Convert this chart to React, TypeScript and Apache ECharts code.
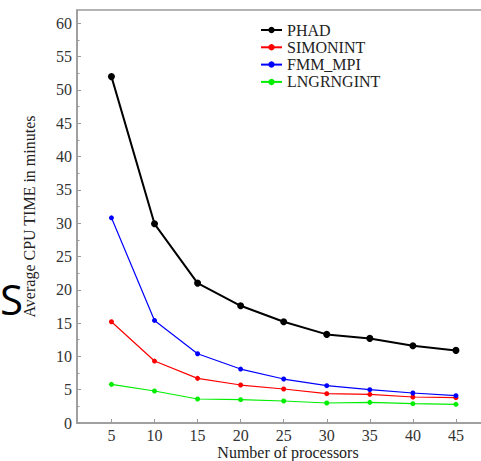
import React, { useEffect, useRef } from "react";
import * as echarts from "echarts";

const processors = [5, 10, 15, 20, 25, 30, 35, 40, 45];
const phad = [52.0, 29.9, 21.0, 17.6, 15.2, 13.3, 12.7, 11.6, 10.9];
const simonint = [15.2, 9.3, 6.7, 5.7, 5.1, 4.4, 4.3, 3.9, 3.8];
const fmmMpi = [30.8, 15.4, 10.4, 8.1, 6.6, 5.6, 5.0, 4.5, 4.1];
const lngrngint = [5.8, 4.8, 3.6, 3.5, 3.3, 3.0, 3.1, 2.9, 2.8];
const xTicks = [5, 10, 15, 20, 25, 30, 35, 40, 45];
const yTicks = [0, 5, 10, 15, 20, 25, 30, 35, 40, 45, 50, 55, 60];
const yMinorTicks = [2.5, 7.5, 12.5, 17.5, 22.5, 27.5, 32.5, 37.5, 42.5, 47.5, 52.5, 57.5];

const FONT = "Liberation Serif";
const AXIS_COLOR = "#9a9a9a";

function pairs(vals: number[]) {
  return processors.map((p, i) => [p, vals[i]]);
}

export default function App() {
  const ref = useRef<HTMLDivElement>(null);
  useEffect(() => {
    const chart = echarts.init(ref.current!, null, { renderer: "svg" });
    const labelStyle = { fontFamily: FONT, fontSize: 16, color: "#333" };
    chart.setOption({
      animation: false,
      backgroundColor: "#fff",
      grid: {
        left: 77,
        top: 10,
        width: 422,
        height: 413,
        show: true,
        borderColor: AXIS_COLOR,
        borderWidth: 1.5,
        containLabel: false,
        outerBoundsMode: "none",
      },
      legend: {
        orient: "vertical",
        left: 255,
        top: 17,
        itemWidth: 21,
        itemHeight: 8,
        itemGap: 1.3,
        itemTextGap: 5,
        textStyle: { fontFamily: FONT, fontSize: 16, color: "#222", lineHeight: 16 },
        data: ["PHAD", "SIMONINT", "FMM_MPI", "LNGRNGINT"],
      },
      xAxis: {
        type: "value",
        min: 1,
        max: 50,
        name: "Number of processors",
        nameLocation: "middle",
        nameGap: 21,
        nameMoveOverlap: false,
        nameTextStyle: { fontFamily: FONT, fontSize: 16, color: "#222", lineHeight: 16 },
        axisLine: { show: true, lineStyle: { color: AXIS_COLOR, width: 1.5 } },
        axisTick: { show: true, inside: true, length: 4, customValues: xTicks, lineStyle: { color: AXIS_COLOR } },
        axisLabel: { ...labelStyle, margin: 4, customValues: xTicks },
        splitLine: { show: false },
      },
      yAxis: [
        {
          type: "value",
          min: 0,
          max: 62,
          name: "Average CPU TIME in minutes",
          nameLocation: "middle",
          nameGap: 40,
          nameTextStyle: { fontFamily: FONT, fontSize: 16, color: "#222" },
          axisLine: { show: true, lineStyle: { color: AXIS_COLOR, width: 1.5 } },
          axisTick: { show: true, inside: true, length: 4, customValues: yTicks, lineStyle: { color: AXIS_COLOR } },
          axisLabel: { ...labelStyle, margin: 5, customValues: yTicks },
          splitLine: { show: false },
        },
        {
          type: "value",
          min: 0,
          max: 62,
          position: "left",
          axisLine: { show: false },
          axisTick: { show: true, inside: true, length: 2.5, customValues: yMinorTicks, lineStyle: { color: AXIS_COLOR } },
          axisLabel: { show: false },
          splitLine: { show: false },
        },
      ],
      series: [
        {
          name: "PHAD",
          type: "line",
          data: pairs(phad),
          color: "#000",
          symbol: "circle",
          symbolSize: 7,
          lineStyle: { width: 2, color: "#000" },
          itemStyle: { color: "#000" },
        },
        {
          name: "SIMONINT",
          type: "line",
          data: pairs(simonint),
          color: "#ff0000",
          symbol: "circle",
          symbolSize: 5,
          lineStyle: { width: 1.2, color: "#ff0000" },
          itemStyle: { color: "#ff0000" },
        },
        {
          name: "FMM_MPI",
          type: "line",
          data: pairs(fmmMpi),
          color: "#0000ff",
          symbol: "circle",
          symbolSize: 5,
          lineStyle: { width: 1.2, color: "#0000ff" },
          itemStyle: { color: "#0000ff" },
        },
        {
          name: "LNGRNGINT",
          type: "line",
          data: pairs(lngrngint),
          color: "#00ee00",
          symbol: "circle",
          symbolSize: 5,
          lineStyle: { width: 1.2, color: "#00ee00" },
          itemStyle: { color: "#00ee00" },
        },
      ],
      graphic: [
        {
          type: "text",
          left: 0,
          top: 277,
          style: { text: "S", fontFamily: "Open Sans", fontSize: 42, fill: "#000" },
        },
      ],
    });
    return () => chart.dispose();
  }, []);
  return (
    <div
      ref={ref}
      style={{ position: "absolute", left: 0, top: 0, width: 481, height: 461 }}
    />
  );
}
